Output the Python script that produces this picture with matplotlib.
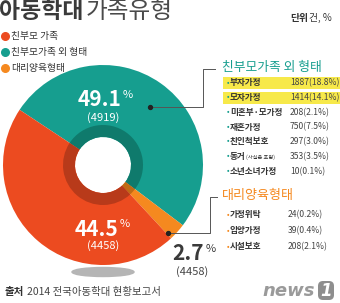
import matplotlib.pyplot as plt
from matplotlib.patches import Ellipse, Rectangle, FancyBboxPatch

plt.rcParams['font.family'] = ['Noto Sans CJK KR', 'DejaVu Sans']

# 전체 구성 (pie 순서: 친부모가족 외, 대리양육, 친부모 가족)
groups = ['친부모가족 외 형태', '대리양육형태', '친부모 가족']
shares = [49.1, 2.7, 44.5]
counts = ['(4919)', '(4458)', '(4458)']
colors = ['#169e8f', '#f5891f', '#ec4b20']
dark_colors = ['#0f7a6c', '#c06a15', '#b83a1a']

legend_labels = ['친부모 가족', '친부모가족 외 형태', '대리양육형태']
legend_colors = ['#ec4b20', '#169e8f', '#f5891f']

# 친부모가족 외 형태 세부
other_labels = ['부자가정', '모자가정', '미혼부·모가정', '재혼가정', '친인척보호', '동거', '소년소녀가정']
other_values = ['1887(18.8%)', '1414(14.1%)', '208(2.1%)', '750(7.5%)', '297(3.0%)',
                '353(3.5%)', '10(0.1%)']

# 대리양육형태 세부
foster_labels = ['가정위탁', '입양가정', '시설보호']
foster_values = ['24(0.2%)', '39(0.4%)', '208(2.1%)']

W, H = 340, 303
fig = plt.figure(figsize=(W / 100, H / 100), dpi=100)

# donut axes
cx, cy, r = 103, 165, 100
pax = fig.add_axes([(cx - r) / W, (H - cy - r) / H, 2 * r / W, 2 * r / H])
pax.pie(shares, colors=colors, startangle=146.5, counterclock=False,
        radius=1.0, wedgeprops=dict(width=0.72, linewidth=0))
pax.pie(shares, colors=dark_colors, startangle=146.5, counterclock=False,
        radius=0.40, wedgeprops=dict(width=0.12, linewidth=0))
pax.set_xlim(-1, 1)
pax.set_ylim(-1, 1)
pax.axis('off')

# overlay axes in pixel coordinates (y down), drawn above the donut
ax = fig.add_axes([0, 0, 1, 1])
ax.set_xlim(0, W)
ax.set_ylim(H, 0)
ax.axis('off')
ax.set_zorder(5)
ax.patch.set_visible(False)

# shadow under the donut
ax.add_patch(Ellipse((103, 272), 62, 9, color='#b5b5b5', zorder=0))

# title
ax.text(-1, 12, '아동학대', fontsize=16.5, fontweight='bold', color='#3a3a3a', va='center')
ax.text(86, 12, '가족유형', fontsize=17, fontweight='light', color='#4a4a4a', va='center')
ax.text(290, 18, '단위', fontsize=7, fontweight='bold', color='#333333', va='center')
ax.text(309, 18, '건, %', fontsize=7, color='#333333', va='center')

# legend
for i, (lab, c) in enumerate(zip(legend_labels, legend_colors)):
    y = 36 + i * 16
    ax.scatter(5, y, s=30, color=c, zorder=3)
    ax.text(11, y, lab, fontsize=7, color='#333333', va='center')

# pie labels
ax.text(121, 100, '49.1', fontsize=15, fontweight='bold', color='white', ha='right', va='center')
ax.text(123, 95, '%', fontsize=8, color='white', ha='left', va='center')
ax.text(103, 118, counts[0], fontsize=8, color='white', ha='center', va='center', fontweight='light')
ax.text(118, 229, '44.5', fontsize=15, fontweight='bold', color='white', ha='right', va='center')
ax.text(120, 224, '%', fontsize=8, color='white', ha='left', va='center')
ax.text(103, 246, counts[2], fontsize=8, color='white', ha='center', va='center', fontweight='light')
ax.text(204, 254, '2.7', fontsize=15, fontweight='bold', color='#3a3a3a', ha='right', va='center')
ax.text(206, 249, '%', fontsize=8, color='#3a3a3a', ha='left', va='center')
ax.text(192, 272, counts[1], fontsize=8, color='#444444', ha='center', va='center', fontweight='light')

# connector lines
ax.plot([150, 203, 203, 215], [107, 107, 69, 69], color='#555555', lw=0.7)
ax.scatter(150, 107, s=8, color='#222222', zorder=4)
ax.plot([168, 210, 210, 217], [233, 233, 197, 197], color='#555555', lw=0.7)
ax.scatter(168, 233, s=8, color='#222222', zorder=4)

# 친부모가족 외 형태 list
ax.text(222, 68, groups[0], fontsize=9.2, color='#169e8f', va='center')
for i, (lab, val) in enumerate(zip(other_labels, other_values)):
    y = 83 + i * 14.7
    if i < 2:
        ax.add_patch(Rectangle((223, y - 6), 117, 12, color='#f7e94a', zorder=1, lw=0))
    ax.text(225, y, '·', fontsize=8, fontweight='bold', color='#169e8f', va='center', zorder=2)
    ax.text(230, y, lab, fontsize=6.2, fontweight='bold', color='#333333', va='center', zorder=2)
    if lab == '동거':
        ax.text(246, y + 1, '(사실혼 포함)', fontsize=3.8, color='#333333', va='center', zorder=2)
    ax.text(290, y, val, fontsize=6.2, color='#444444', va='center', zorder=2, fontweight='light')

# 대리양육형태 list
ax.text(222, 196, groups[1], fontsize=9.4, color='#f5891f', va='center')
for i, (lab, val) in enumerate(zip(foster_labels, foster_values)):
    y = 215 + i * 16
    ax.text(225, y, '·', fontsize=8, fontweight='bold', color='#f5891f', va='center')
    ax.text(230, y, lab, fontsize=6.2, fontweight='bold', color='#333333', va='center')
    ax.text(288, y, val, fontsize=6.2, color='#444444', va='center', fontweight='light')

# source
ax.text(5, 292, '출처', fontsize=7.5, fontweight='bold', color='#333333', va='center')
ax.text(27, 292, '2014 전국아동학대 현황보고서', fontsize=7.5, color='#444444', va='center')

# news1 mark
ax.text(262, 291, 'news', fontsize=13, fontstyle='italic', fontweight='bold', color='#9a9a9a',
        va='center', family='DejaVu Sans')
ax.add_patch(FancyBboxPatch((318, 281), 16, 19, boxstyle='round,pad=0,rounding_size=5',
                            color='#8e8e8e', lw=0))
ax.text(326, 291, '1', fontsize=12, fontstyle='italic', fontweight='bold', color='white',
        ha='center', va='center', family='DejaVu Sans')

fig.savefig('out.png', dpi=100)
